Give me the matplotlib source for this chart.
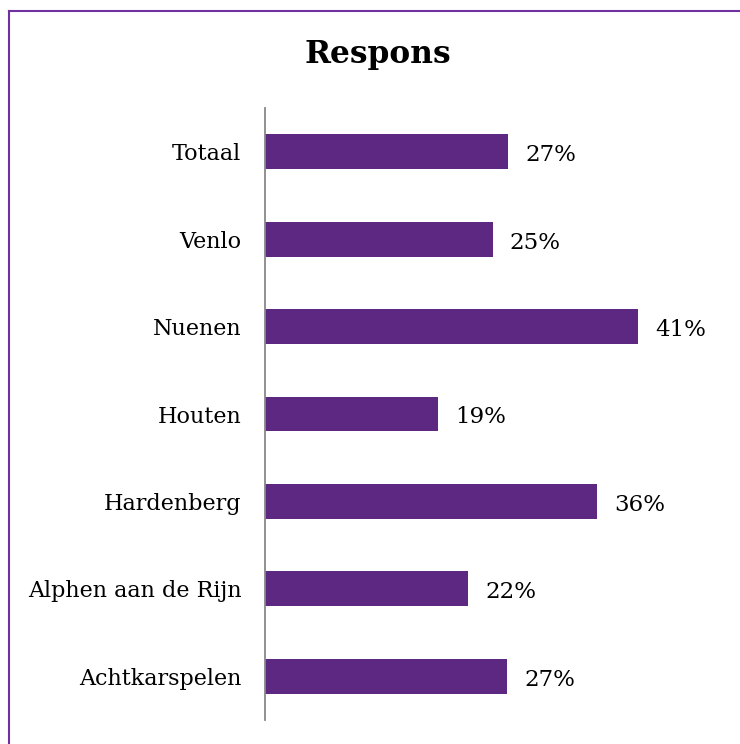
import matplotlib
matplotlib.use("Agg")
import matplotlib.pyplot as plt
from matplotlib.lines import Line2D

categories = ["Totaal", "Venlo", "Nuenen", "Houten", "Hardenberg",
              "Alphen aan de Rijn", "Achtkarspelen"]
values = [0.267, 0.25, 0.41, 0.19, 0.365, 0.223, 0.266]
value_labels = ["27%", "25%", "41%", "19%", "36%", "22%", "27%"]

bar_color = "#5c2882"
font = "DejaVu Serif"

fig = plt.figure(figsize=(7.4, 7.44), dpi=100)
ax = fig.add_axes([265 / 740, 1 - 720 / 744, 455 / 740, 612 / 744])

pos = list(range(len(categories)))
ax.barh(pos, values, height=0.4, color=bar_color)
ax.set_ylim(len(categories) - 0.5, -0.5)
ax.set_xlim(0, 0.5)

for p, v, lab in zip(pos, values, value_labels):
    ax.text(v + 0.019, p + 0.04, lab, va="center", ha="left",
            fontsize=16.5, family=font, color="black")

ax.set_yticks(pos)
ax.set_yticklabels(categories, fontsize=16, family=font)
for t in ax.get_yticklabels():
    t.set_y(t.get_position()[1])
ax.tick_params(axis="y", length=0, pad=17)
ax.set_xticks([])
for s in ["top", "right", "bottom"]:
    ax.spines[s].set_visible(False)
ax.spines["left"].set_color("#888888")
ax.spines["left"].set_linewidth(1.3)

fig.text(378 / 740, 1 - 55 / 744, "Respons", ha="center", va="center",
         fontsize=22.5, fontweight="bold", family=font)

# frame edges visible in the crop (top and left)
fig.add_artist(Line2D([9 / 740, 9 / 740], [0, 1 - 11 / 744],
                      transform=fig.transFigure, color="#7030a0", lw=1.5))
fig.add_artist(Line2D([9 / 740, 1], [1 - 11 / 744, 1 - 11 / 744],
                      transform=fig.transFigure, color="#7030a0", lw=1.5))

fig.savefig("out.png", dpi=100, facecolor="white")
